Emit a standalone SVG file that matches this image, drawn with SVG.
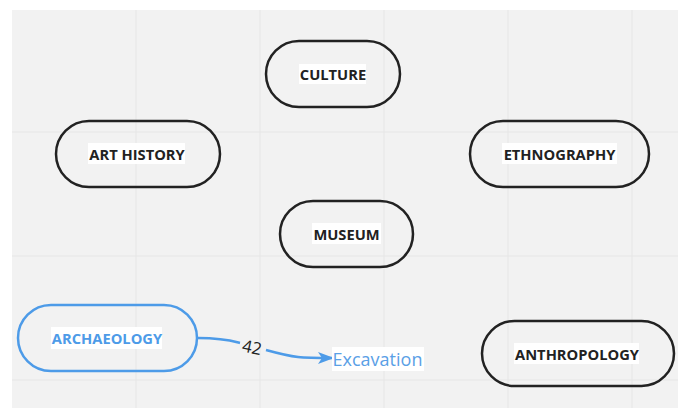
<svg xmlns="http://www.w3.org/2000/svg" width="678" height="408" viewBox="0 0 678 408">
<style>
.node rect.shape{fill:none;stroke:#222;stroke-width:2.5}
.node.blue rect.shape{stroke:#4d9be8}
.lbl{font-family:"Open Sans","Noto Sans",sans-serif;font-weight:700;font-size:14.7px;fill:#222;text-anchor:middle;dominant-baseline:central}
.blue .lbl{fill:#4d9be8}
.bg{fill:#fff}
.grid line{stroke:#e6e6e6;stroke-width:1}
</style>
<defs>
<marker id="arr" markerWidth="16" markerHeight="12" refX="15" refY="6" orient="auto" markerUnits="userSpaceOnUse">
<path d="M0,0 L16,6 L0,12 L4,6 Z" fill="#4d9be8"/>
</marker>
</defs>
<rect width="678" height="408" fill="#fff"/>
<rect x="12" y="10" width="666" height="398" fill="#f2f2f2"/>
<g class="grid">
<line x1="136" y1="10" x2="136" y2="408"/>
<line x1="260" y1="10" x2="260" y2="408"/>
<line x1="384" y1="10" x2="384" y2="408"/>
<line x1="508" y1="10" x2="508" y2="408"/>
<line x1="632" y1="10" x2="632" y2="408"/>
<line x1="12" y1="132" x2="678" y2="132"/>
<line x1="12" y1="256" x2="678" y2="256"/>
<line x1="12" y1="380" x2="678" y2="380"/>
</g>
<g id="connectors">
<path d="M198,338 C225,338 236,342 240,343" fill="none" stroke="#4d9be8" stroke-width="2.5"/>
<path d="M266,350 C295,358 300,358 333,358" fill="none" stroke="#4d9be8" stroke-width="2.5" marker-end="url(#arr)"/>
<text x="252" y="347" transform="rotate(12 252 347)" font-family="'Open Sans','Noto Sans',sans-serif" font-size="17" fill="#222" text-anchor="middle" dominant-baseline="central">42</text>
</g>
<g id="excavation">
<rect class="bg" x="332" y="347" width="92" height="24"/>
<text x="377.5" y="359" font-family="'Open Sans','Noto Sans',sans-serif" font-size="18" fill="#5aa0e6" text-anchor="middle" dominant-baseline="central">Excavation</text>
</g>
<g id="culture" class="node">
<rect class="shape" x="266" y="41" width="134" height="66" rx="33"/>
<rect class="bg" x="299" y="64" width="67" height="20"/>
<text class="lbl" x="333" y="74">CULTURE</text>
</g>
<g id="art-history" class="node">
<rect class="shape" x="56" y="121" width="164" height="66" rx="33"/>
<rect class="bg" x="88" y="143" width="97" height="21"/>
<text class="lbl" x="137" y="154">ART HISTORY</text>
</g>
<g id="ethnography" class="node">
<rect class="shape" x="470" y="121" width="179" height="66" rx="33"/>
<rect class="bg" x="502" y="143" width="115" height="21"/>
<text class="lbl" x="559.5" y="154">ETHNOGRAPHY</text>
</g>
<g id="museum" class="node">
<rect class="shape" x="280" y="201" width="133" height="66" rx="33"/>
<rect class="bg" x="312" y="223" width="69" height="21"/>
<text class="lbl" x="346.5" y="234">MUSEUM</text>
</g>
<g id="archaeology" class="node blue">
<rect class="shape" x="18" y="305" width="179" height="66" rx="33"/>
<rect class="bg" x="51" y="327" width="111" height="22"/>
<text class="lbl" x="107" y="338">ARCHAEOLOGY</text>
</g>
<g id="anthropology" class="node">
<rect class="shape" x="482" y="321" width="192" height="65" rx="32.5"/>
<rect class="bg" x="514" y="343" width="125" height="21"/>
<text class="lbl" x="577" y="353.5">ANTHROPOLOGY</text>
</g>
</svg>
